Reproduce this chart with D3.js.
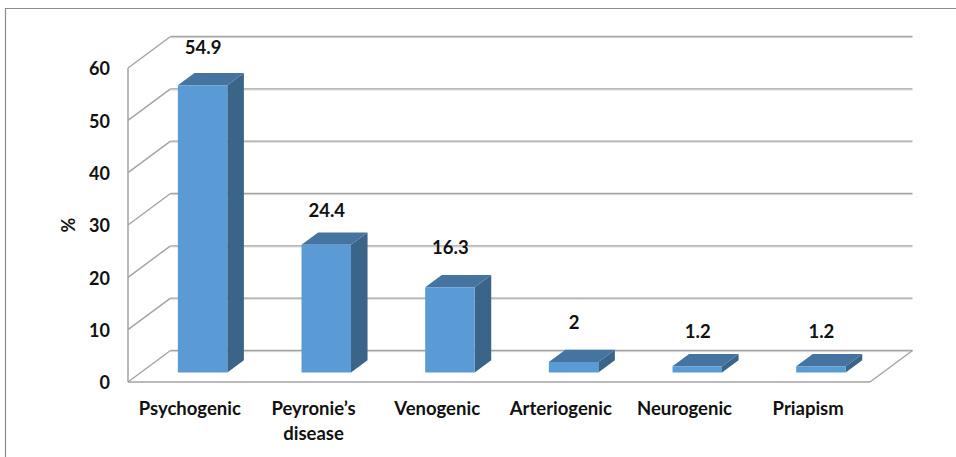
<!DOCTYPE html>
<html>
<head>
<meta charset="utf-8">
<script src="https://cdn.jsdelivr.net/npm/d3@7"></script>
<style>
html,body{margin:0;padding:0;background:#fff;}
svg{display:block;}
text{font-family:Lato,"Open Sans",sans-serif;font-weight:700;fill:#111;}
</style>
</head>
<body>
<svg id="chart" width="956" height="457"></svg>
<script>
const categories = ["Psychogenic", "Peyronie’s disease", "Venogenic", "Arteriogenic", "Neurogenic", "Priapism"];
const values = [54.9, 24.4, 16.3, 2, 1.2, 1.2];
const yTicks = [0, 10, 20, 30, 40, 50, 60];
const labelLift = [38, 34, 40, 40, 35, 35];

const W = 956, H = 457;
const left = 128, right = 870, front0 = 382, front60 = 68;
const depthX = 42.5, depthY = 31.5;
const barD0 = 0.3, barD1 = 0.69;

const svg = d3.select("#chart");
const x = d3.scaleBand().domain(categories).range([left, right]).paddingInner(0.6).paddingOuter(0.3);
const y = d3.scaleLinear().domain([0, 60]).range([front0, front60]);
const project = (px, py, d) => [px + depthX * d, py - depthY * d];
const pathOf = pts => d3.line()(pts) + "Z";

// outer frame: top and left edges only
svg.append("path").attr("d", `M${W},8.5H5.5V${H}`).attr("fill", "none").attr("stroke", "#8c8c8c").attr("stroke-width", 1.2);

// walls and floor
const grid = svg.append("g").attr("fill", "none");
yTicks.forEach(t => {
  const [bx, by] = project(left, y(t), 1);
  const [ex] = project(right, y(t), 1);
  grid.append("line").attr("x1", bx).attr("x2", ex).attr("y1", by + 1.2).attr("y2", by + 1.2).attr("stroke", "#dedede").attr("stroke-width", 1);
  grid.append("line").attr("x1", bx).attr("x2", ex).attr("y1", by).attr("y2", by).attr("stroke", "#a3a3a3").attr("stroke-width", 1.4);
  grid.append("line").attr("x1", left).attr("y1", y(t)).attr("x2", bx).attr("y2", by).attr("stroke", "#a3a3a3").attr("stroke-width", 1.4);
});
grid.append("line").attr("x1", left).attr("x2", left).attr("y1", y(60)).attr("y2", y(0)).attr("stroke", "#a3a3a3").attr("stroke-width", 1.5);
grid.append("line").attr("x1", left).attr("x2", right).attr("y1", y(0)).attr("y2", y(0)).attr("stroke", "#a3a3a3").attr("stroke-width", 1.6);
const fr = project(right, y(0), 1);
grid.append("line").attr("x1", right).attr("y1", y(0)).attr("x2", fr[0]).attr("y2", fr[1]).attr("stroke", "#a3a3a3").attr("stroke-width", 1.4);

// 3D bars
const bars = svg.append("g").selectAll("g").data(categories.map((c, i) => ({c, v: values[i]}))).join("g");
const corners = d => {
  const x0 = x(d.c), x1 = x0 + x.bandwidth();
  const yb = y(0), yt = y(d.v);
  return {
    fbl: project(x0, yb, barD0), fbr: project(x1, yb, barD0),
    ftl: project(x0, yt, barD0), ftr: project(x1, yt, barD0),
    bbr: project(x1, yb, barD1), btl: project(x0, yt, barD1), btr: project(x1, yt, barD1)
  };
};
bars.append("path").attr("fill", "#3A6488").attr("d", d => { const k = corners(d); return pathOf([k.fbr, k.ftr, k.btr, k.bbr]); });
bars.append("path").attr("fill", "#44749F").attr("d", d => { const k = corners(d); return pathOf([k.ftl, k.ftr, k.btr, k.btl]); });
bars.append("path").attr("fill", "#5B9BD5").attr("d", d => { const k = corners(d); return pathOf([k.fbl, k.fbr, k.ftr, k.ftl]); });

// value labels
bars.append("text")
  .attr("text-anchor", "middle")
  .attr("font-size", 18.5)
  .attr("x", d => corners(d).ftl[0] + x.bandwidth() / 2 + 0.5)
  .attr("y", (d, i) => corners(d).ftl[1] - labelLift[i] + 6.5)
  .text(d => d.v);

// y axis
const yAxis = svg.append("g").attr("transform", "translate(128,1)")
  .call(d3.axisLeft(y).tickValues(yTicks).tickSize(0).tickPadding(18));
yAxis.select(".domain").remove();
yAxis.selectAll("text").attr("font-size", 18).style("font-family", "Lato,'Open Sans',sans-serif").style("font-weight", 700).attr("fill", "#111");

svg.append("text").attr("transform", "translate(75,225) rotate(-90)").attr("text-anchor", "middle").attr("font-size", 18).text("%");

// x axis
const xAxis = svg.append("g").attr("transform", `translate(0,${front0})`)
  .call(d3.axisBottom(x).tickSize(0));
xAxis.select(".domain").remove();
xAxis.selectAll("text").each(function(d) {
  const t = d3.select(this).text("").attr("y", 33).attr("dy", 0).attr("font-size", 18.5)
    .style("font-family", "Lato,'Open Sans',sans-serif").style("font-weight", 700).attr("fill", "#111");
  const words = d === "Peyronie’s disease" ? d.split(" ") : [d];
  words.forEach((w, i) => t.append("tspan").attr("x", 0).attr("dy", i ? 25 : 0).text(w));
});
</script>
</body>
</html>
